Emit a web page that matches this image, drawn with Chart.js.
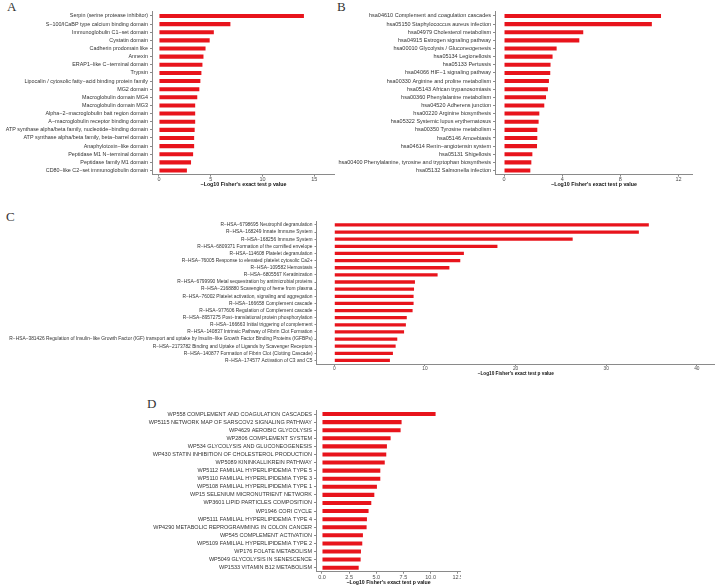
<!DOCTYPE html>
<html>
<head>
<meta charset="utf-8">
<script src="https://cdn.jsdelivr.net/npm/chart.js@4"></script>
<style>
  body { margin: 0; background: #fff; }
  #wrap { position: relative; width: 717px; height: 587px; overflow: hidden; }
  canvas { position: absolute; }
  .tag { position: absolute; font-family: "Liberation Serif", serif; font-size: 13px; line-height: 13px; color: #333; }
</style>
</head>
<body>
<div id="wrap">
  <div class="tag" style="left:7px;top:0px">A</div>
  <div class="tag" style="left:337px;top:0px">B</div>
  <div class="tag" style="left:6px;top:210px">C</div>
  <div class="tag" style="left:147px;top:397px">D</div>
  <canvas id="chartA" width="335" height="188" style="left:0px;top:0px"></canvas>
  <canvas id="chartB" width="358" height="188" style="left:335px;top:0px"></canvas>
  <canvas id="chartC" width="715" height="162" style="left:0px;top:215px"></canvas>
  <canvas id="chartD" width="361" height="186" style="left:100px;top:400px"></canvas>
</div>
<script>
// Panel A - protein domains
const aLabels = [
  'Serpin (serine protease inhibitor)',
  'S\u2212100/ICaBP type calcium binding domain',
  'Immunoglobulin C1\u2212set domain',
  'Cystatin domain',
  'Cadherin prodomain like',
  'Annexin',
  'ERAP1\u2212like C\u2212terminal domain',
  'Trypsin',
  'Lipocalin / cytosolic fatty\u2212acid binding protein family',
  'MG2 domain',
  'Macroglobulin domain MG4',
  'Macroglobulin domain MG3',
  'Alpha\u22122\u2212macroglobulin bait region domain',
  'A\u2212macroglobulin receptor binding domain',
  'ATP synthase alpha/beta family, nucleotide\u2212binding domain',
  'ATP synthase alpha/beta family, beta\u2212barrel domain',
  'Anaphylotoxin\u2212like domain',
  'Peptidase M1 N\u2212terminal domain',
  'Peptidase family M1 domain',
  'CD80\u2212like C2\u2212set immunoglobulin domain'
];
const aValues = [14.0, 6.9, 5.3, 4.9, 4.5, 4.3, 4.2, 4.1, 4.0, 3.9, 3.7, 3.5, 3.5, 3.5, 3.45, 3.4, 3.4, 3.3, 3.1, 2.7];
const aTicks = [0, 5, 10, 15];

// Panel B - KEGG pathways
const bLabels = [
  'hsa04610 Complement and coagulation cascades',
  'hsa05150 Staphylococcus aureus infection',
  'hsa04979 Cholesterol metabolism',
  'hsa04915 Estrogen signaling pathway',
  'hsa00010 Glycolysis / Gluconeogenesis',
  'hsa05134 Legionellosis',
  'hsa05133 Pertussis',
  'hsa04066 HIF\u22121 signaling pathway',
  'hsa00330 Arginine and proline metabolism',
  'hsa05143 African trypanosomiasis',
  'hsa00360 Phenylalanine metabolism',
  'hsa04520 Adherens junction',
  'hsa00220 Arginine biosynthesis',
  'hsa05322 Systemic lupus erythematosus',
  'hsa00350 Tyrosine metabolism',
  'hsa05146 Amoebiasis',
  'hsa04614 Renin\u2212angiotensin system',
  'hsa05131 Shigellosis',
  'hsa00400 Phenylalanine, tyrosine and tryptophan biosynthesis',
  'hsa05132 Salmonella infection'
];
const bValues = [10.8, 10.17, 5.45, 5.18, 3.62, 3.34, 3.2, 3.18, 3.09, 3.02, 2.89, 2.77, 2.43, 2.38, 2.29, 2.29, 2.27, 1.95, 1.88, 1.81];
const bTicks = [0, 4, 8, 12];

// Panel C - Reactome
const cLabels = [
  'R\u2212HSA\u22126798695 Neutrophil degranulation',
  'R\u2212HSA\u2212168249 Innate Immune System',
  'R\u2212HSA\u2212168256 Immune System',
  'R\u2212HSA\u22126809371 Formation of the cornified envelope',
  'R\u2212HSA\u2212114608 Platelet degranulation',
  'R\u2212HSA\u221276005 Response to elevated platelet cytosolic Ca2+',
  'R\u2212HSA\u2212109582 Hemostasis',
  'R\u2212HSA\u22126805567 Keratinization',
  'R\u2212HSA\u22126799990 Metal sequestration by antimicrobial proteins',
  'R\u2212HSA\u22122168880 Scavenging of heme from plasma',
  'R\u2212HSA\u221276002 Platelet activation, signaling and aggregation',
  'R\u2212HSA\u2212166658 Complement cascade',
  'R\u2212HSA\u2212977606 Regulation of Complement cascade',
  'R\u2212HSA\u22128957275 Post\u2212translational protein phosphorylation',
  'R\u2212HSA\u2212166663 Initial triggering of complement',
  'R\u2212HSA\u2212140837 Intrinsic Pathway of Fibrin Clot Formation',
  'R\u2212HSA\u2212381426 Regulation of Insulin\u2212like Growth Factor (IGF) transport and uptake by Insulin\u2212like Growth Factor Binding Proteins (IGFBPs)',
  'R\u2212HSA\u22122173782 Binding and Uptake of Ligands by Scavenger Receptors',
  'R\u2212HSA\u2212140877 Formation of Fibrin Clot (Clotting Cascade)',
  'R\u2212HSA\u2212174577 Activation of C3 and C5'
];
const cValues = [34.7, 33.6, 26.3, 18.0, 14.3, 13.9, 12.7, 11.4, 8.9, 8.8, 8.75, 8.75, 8.64, 8.0, 7.9, 7.7, 6.95, 6.77, 6.47, 6.14];
const cTicks = [0, 10, 20, 30, 40];

// Panel D - WikiPathways
const dLabels = [
  'WP558 COMPLEMENT AND COAGULATION CASCADES',
  'WP5115 NETWORK MAP OF SARSCOV2 SIGNALING PATHWAY',
  'WP4629 AEROBIC GLYCOLYSIS',
  'WP2806 COMPLEMENT SYSTEM',
  'WP534 GLYCOLYSIS AND GLUCONEOGENESIS',
  'WP430 STATIN INHIBITION OF CHOLESTEROL PRODUCTION',
  'WP5089 KININKALLIKREIN PATHWAY',
  'WP5112 FAMILIAL HYPERLIPIDEMIA TYPE 5',
  'WP5110 FAMILIAL HYPERLIPIDEMIA TYPE 3',
  'WP5108 FAMILIAL HYPERLIPIDEMIA TYPE 1',
  'WP15 SELENIUM MICRONUTRIENT NETWORK',
  'WP3601 LIPID PARTICLES COMPOSITION',
  'WP1946 CORI CYCLE',
  'WP5111 FAMILIAL HYPERLIPIDEMIA TYPE 4',
  'WP4290 METABOLIC REPROGRAMMING IN COLON CANCER',
  'WP545 COMPLEMENT ACTIVATION',
  'WP5109 FAMILIAL HYPERLIPIDEMIA TYPE 2',
  'WP176 FOLATE METABOLISM',
  'WP5049 GLYCOLYSIS IN SENESCENCE',
  'WP1533 VITAMIN B12 METABOLISM'
];
const dValues = [10.46, 7.33, 7.24, 6.32, 5.98, 5.92, 5.78, 5.37, 5.37, 5.06, 4.82, 4.54, 4.29, 4.14, 4.11, 3.77, 3.71, 3.59, 3.56, 3.38];
const dTicks = [0, 2.5, 5, 7.5, 10, 12.5];
const dTickLabels = ['0.0', '2.5', '5.0', '7.5', '10.0', '12.5'];

const xTitle = '\u2212Log10 Fisher\'s exact test p value';
const FONT = "'Liberation Sans', Arial, sans-serif";
const BAR_RED = '#e8141c';
const AXIS_GREY = '#8a8a8a';

// one horizontal bar panel; geometry in px relative to its canvas
function drawPanel(id, labels, values, ticks, tickLabels, g) {
  const ctx = document.getElementById(id).getContext('2d');
  return new Chart(ctx, {
    type: 'bar',
    data: {
      labels: labels,
      datasets: [{
        data: values,
        backgroundColor: BAR_RED,
        borderWidth: 0,
        barPercentage: g.barPct || 0.5,
        categoryPercentage: 1
      }]
    },
    options: {
      indexAxis: 'y',
      responsive: false,
      animation: false,
      layout: { padding: { top: g.padTop, left: 0, right: 0, bottom: 0 } },
      plugins: { legend: { display: false }, tooltip: { enabled: false } },
      scales: {
        x: {
          type: 'linear',
          min: g.min,
          max: g.max,
          afterBuildTicks: s => { s.ticks = ticks.map(v => ({ value: v })); },
          afterFit: s => { s.height = g.xHeight; s.paddingLeft = 0; s.paddingRight = 0; },
          border: { display: true, color: AXIS_GREY, width: 1 },
          grid: { drawOnChartArea: false, drawTicks: true, tickLength: 2, color: AXIS_GREY },
          ticks: {
            autoSkip: false,
            maxRotation: 0,
            padding: 0,
            color: '#4d4d4d',
            font: { family: FONT, size: g.tickSize },
            callback: (v) => {
              const i = ticks.indexOf(v);
              return i >= 0 ? tickLabels[i] : '';
            }
          },
          title: {
            display: true,
            text: xTitle,
            color: '#111',
            padding: { top: 0, bottom: 0 },
            font: { family: FONT, size: g.titleSize, weight: 'bold' }
          }
        },
        y: {
          type: 'category',
          offset: true,
          afterFit: s => { s.width = g.yWidth; s.paddingTop = 0; s.paddingBottom = 0; },
          border: { display: true, color: AXIS_GREY, width: 1 },
          grid: { offset: false, drawOnChartArea: false, drawTicks: true, tickLength: 2, color: AXIS_GREY },
          ticks: {
            autoSkip: false,
            padding: 2,
            color: '#333',
            font: { family: FONT, size: g.labelSize }
          }
        }
      }
    }
  });
}

window.onload = () => {
  drawPanel('chartA', aLabels, aValues, aTicks, aTicks.map(String),
    { padTop: 11.9, yWidth: 152, xHeight: 188 - 174.6, min: -0.67, max: 17,
      tickSize: 5.5, titleSize: 5.3, labelSize: 5.4 });
  drawPanel('chartB', bLabels, bValues, bTicks, bTicks.map(String),
    { padTop: 11.9, yWidth: 160, xHeight: 188 - 174.6, min: -0.62, max: 13,
      tickSize: 5.5, titleSize: 5.3, labelSize: 5.5 });
  drawPanel('chartC', cLabels, cValues, cTicks, cTicks.map(String),
    { padTop: 6.4, yWidth: 316.5, xHeight: 162 - 149, min: -1.96, max: 42,
      tickSize: 4.8, titleSize: 4.7, labelSize: 4.85, barPct: 0.46 });
  drawPanel('chartD', dLabels, dValues, dTicks, dTickLabels,
    { padTop: 10, yWidth: 216, xHeight: 186 - 171.7, min: -0.55, max: 12.8,
      tickSize: 5.5, titleSize: 5.2, labelSize: 5.5 });
};
</script>
</body>
</html>
